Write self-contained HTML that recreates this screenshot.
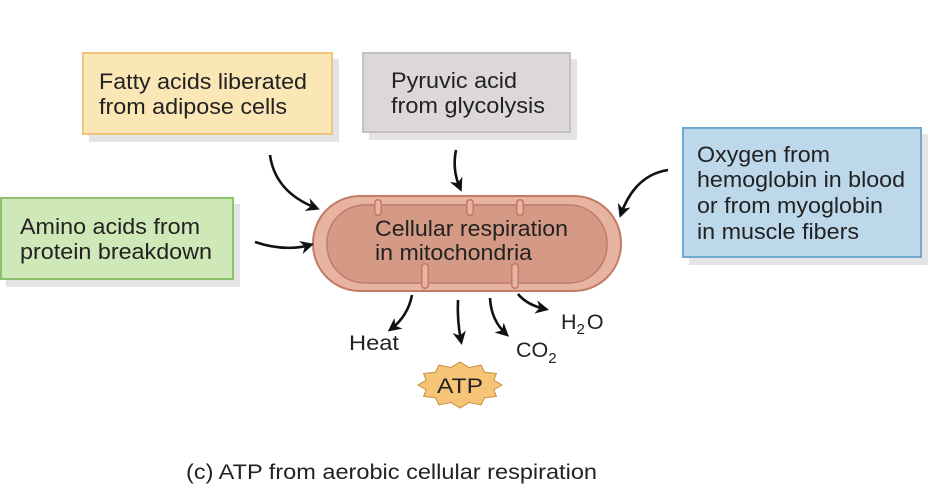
<!DOCTYPE html>
<html><head><meta charset="utf-8"><style>
html,body{margin:0;padding:0;background:#fff;}
svg{display:block;font-family:"Liberation Sans",Arial,sans-serif;}
</style></head><body>
<svg width="928" height="495" viewBox="0 0 928 495" xmlns="http://www.w3.org/2000/svg">
<defs>
<marker id="ah" viewBox="0 0 10 10" refX="7" refY="5" markerWidth="5.2" markerHeight="5.2" orient="auto">
<path d="M0,0 L10,5 L0,10 L3,5 Z" fill="#111"/>
</marker>
</defs>
<rect x="89" y="59" width="250" height="83" fill="#e4e4e4"/>
<rect x="369" y="59" width="208" height="81" fill="#e4e4e4"/>
<rect x="689" y="134" width="239" height="131" fill="#e4e4e4"/>
<rect x="6" y="204" width="234" height="83" fill="#e4e4e4"/>
<rect x="83" y="53" width="249" height="81" fill="#fbe6b6" stroke="#efc57a" stroke-width="2"/>
<rect x="363" y="53" width="207" height="79" fill="#dcd7da" stroke="#c6c0c4" stroke-width="2"/>
<rect x="683" y="128" width="238" height="129" fill="#bcd8ea" stroke="#6fa8d0" stroke-width="2"/>
<rect x="1" y="198" width="232" height="81" fill="#cfe8b7" stroke="#8cc26b" stroke-width="2"/>
<g font-size="22.5" fill="#222">
<text x="99" y="89" textLength="208" lengthAdjust="spacingAndGlyphs">Fatty acids liberated</text>
<text x="99" y="114" textLength="188" lengthAdjust="spacingAndGlyphs">from adipose cells</text>
<text x="391" y="88" textLength="126" lengthAdjust="spacingAndGlyphs">Pyruvic acid</text>
<text x="391" y="113" textLength="154" lengthAdjust="spacingAndGlyphs">from glycolysis</text>
<text x="697" y="162" textLength="133" lengthAdjust="spacingAndGlyphs">Oxygen from</text>
<text x="697" y="187" textLength="208" lengthAdjust="spacingAndGlyphs">hemoglobin in blood</text>
<text x="697" y="213" textLength="186" lengthAdjust="spacingAndGlyphs">or from myoglobin</text>
<text x="697" y="239" textLength="162" lengthAdjust="spacingAndGlyphs">in muscle fibers</text>
<text x="20" y="234" textLength="180" lengthAdjust="spacingAndGlyphs">Amino acids from</text>
<text x="20" y="259" textLength="192" lengthAdjust="spacingAndGlyphs">protein breakdown</text>
</g>
<rect x="313" y="196" width="308" height="95" rx="47" fill="#e6b4a1" stroke="#c47a66" stroke-width="2"/>
<rect x="327" y="205" width="280" height="78" rx="38" fill="#d49a86" stroke="#c07a66" stroke-width="1.5"/>
<g stroke-linecap="round">
<g stroke="#c07a66" stroke-width="8">
<line x1="378" y1="203" x2="378" y2="212"/><line x1="470" y1="203" x2="470" y2="212"/><line x1="520" y1="203" x2="520" y2="212"/>
<line x1="425" y1="285" x2="425" y2="267"/><line x1="515" y1="285" x2="515" y2="267"/>
</g>
<g stroke="#e6b4a1" stroke-width="5">
<line x1="378" y1="203" x2="378" y2="212"/><line x1="470" y1="203" x2="470" y2="212"/><line x1="520" y1="203" x2="520" y2="212"/>
<line x1="425" y1="285" x2="425" y2="267"/><line x1="515" y1="285" x2="515" y2="267"/>
</g>
</g>
<g font-size="22.5" fill="#222">
<text x="375" y="236" textLength="193" lengthAdjust="spacingAndGlyphs">Cellular respiration</text>
<text x="375" y="260" textLength="157" lengthAdjust="spacingAndGlyphs">in mitochondria</text>
</g>
<g fill="none" stroke="#111" stroke-width="2.6" marker-end="url(#ah)">
<path d="M270,155 Q275,192 316,208"/>
<path d="M456,150 Q452,170 460,188"/>
<path d="M668,170 Q635,175 621,214"/>
<path d="M255,242 Q285,252 310,245"/>
<path d="M412,295 Q408,316 391,329"/>
<path d="M458,300 Q457,320 461,341"/>
<path d="M490,298 Q491,320 506,334"/>
<path d="M518,294 Q527,305 545,309"/>
</g>
<g font-size="21.5" fill="#222">
<text x="349" y="350" textLength="50" lengthAdjust="spacingAndGlyphs">Heat</text>
<text x="516" y="357">CO<tspan font-size="15" dy="6">2</tspan></text>
<text x="561" y="329">H<tspan font-size="15" dy="5">2</tspan><tspan dy="-5" dx="2">O</tspan></text>
</g>
<polygon points="502,385 493.8,389.7 496.4,396.5 484.7,397.7 481,404.9 469.1,402.4 460,408 450.9,402.4 439,404.9 435.3,397.7 423.6,396.5 426.2,389.7 418,385 426.2,380.3 423.6,373.5 435.3,372.3 439,365.1 450.9,367.6 460,362 469.1,367.6 481,365.1 484.7,372.3 496.4,373.5 493.8,380.3" fill="#f6c477" stroke="#c98f3a" stroke-width="1"/>
<text x="437" y="393" font-size="21.5" fill="#222" textLength="46" lengthAdjust="spacingAndGlyphs">ATP</text>
<text x="186" y="479" font-size="21.5" fill="#222" textLength="411" lengthAdjust="spacingAndGlyphs">(c) ATP from aerobic cellular respiration</text>
</svg>
</body></html>
